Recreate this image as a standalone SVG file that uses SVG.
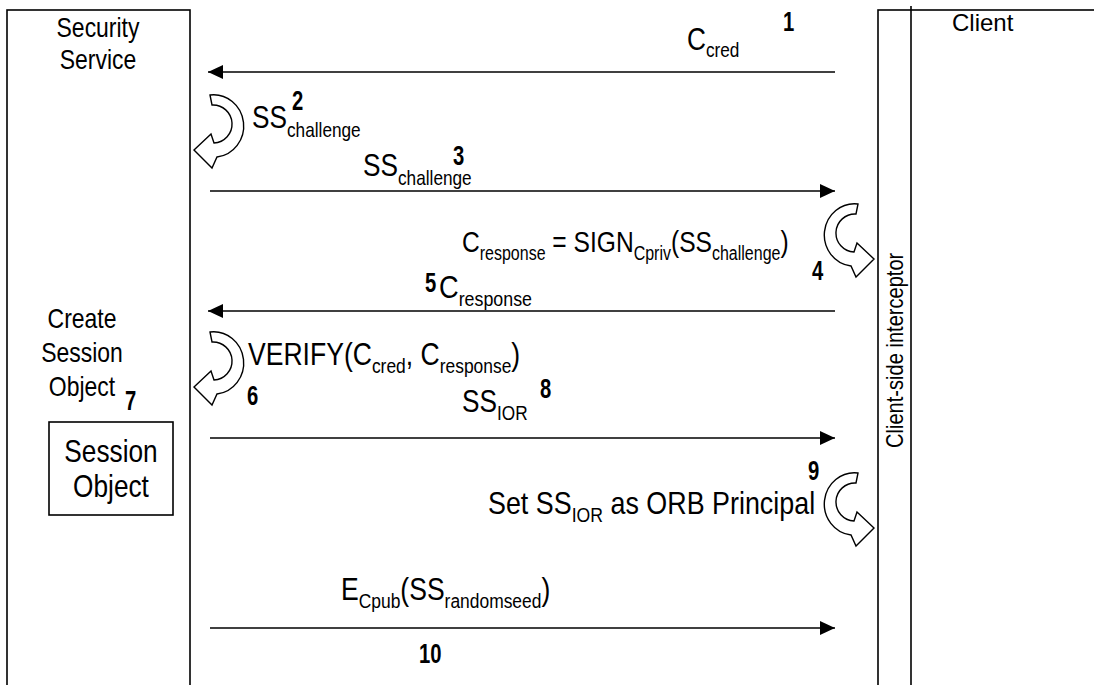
<svg xmlns="http://www.w3.org/2000/svg" width="1094" height="685" viewBox="0 0 1094 685">
<defs>
<style>
.t{font-family:"Liberation Sans",Arial,sans-serif;font-size:32px;fill:#000}
.e{font-size:30px}
.s{font-size:21px}
.es{font-size:19.5px}
.n{font-family:"Liberation Sans",Arial,sans-serif;font-size:27px;font-weight:bold;fill:#000}
.lbl{font-family:"Liberation Sans",Arial,sans-serif;font-size:28px;fill:#000}
.box{fill:#fff;stroke:#000;stroke-width:1.6}
.ln{stroke:#000;stroke-width:1.6;fill:none}
.ca{fill:#fff;stroke:#000;stroke-width:1.4;stroke-linejoin:miter}
</style>
<marker id="ah" markerUnits="userSpaceOnUse" markerWidth="16" markerHeight="14" refX="15" refY="7" orient="auto">
<path d="M0,0 L15,7 L0,14 Z" fill="#000"/>
</marker>
<path id="curl" d="M210,95 A30,31 0 0 1 217,157 L212,168 L194,150 L211,134 L214,143 A18,18 0 0 0 212,105 Z"/>
</defs>
<rect width="1094" height="685" fill="#fff"/>

<g id="security-service">
<rect class="box" x="7" y="10" width="183" height="700"/>
<text class="lbl" transform="translate(98,37) scale(0.82,1)" text-anchor="middle">Security</text>
<text class="lbl" transform="translate(98,69) scale(0.82,1)" text-anchor="middle">Service</text>
<text class="lbl" transform="translate(82,328) scale(0.82,1)" text-anchor="middle">Create</text>
<text class="lbl" transform="translate(82,362) scale(0.82,1)" text-anchor="middle">Session</text>
<text class="lbl" transform="translate(82,396) scale(0.82,1)" text-anchor="middle">Object</text>
</g>

<g id="session-object">
<rect class="box" x="49" y="422" width="124" height="93"/>
<text class="t" transform="translate(111,462) scale(0.82,1)" text-anchor="middle">Session</text>
<text class="t" transform="translate(111,497) scale(0.82,1)" text-anchor="middle">Object</text>
</g>

<g id="client">
<rect class="box" x="878" y="10" width="240" height="700"/>
<line class="ln" x1="911" y1="6" x2="911" y2="685"/>
<text x="952" y="31" style="font-family:'Liberation Sans',Arial,sans-serif;font-size:24px">Client</text>
<text class="t" style="font-size:24.5px" transform="translate(903,448) rotate(-90) scale(0.82,1)">Client-side interceptor</text>
</g>

<g id="connectors">
<line class="ln" x1="835" y1="72" x2="208" y2="72" marker-end="url(#ah)"/>
<line class="ln" x1="210" y1="191" x2="835" y2="191" marker-end="url(#ah)"/>
<line class="ln" x1="835" y1="311" x2="208" y2="311" marker-end="url(#ah)"/>
<line class="ln" x1="210" y1="438" x2="835" y2="438" marker-end="url(#ah)"/>
<line class="ln" x1="210" y1="628" x2="835" y2="628" marker-end="url(#ah)"/>
<use href="#curl" class="ca"/>
<use href="#curl" class="ca" transform="translate(0,237)"/>
<use href="#curl" class="ca" transform="translate(1068,109) scale(-1,1)"/>
<use href="#curl" class="ca" transform="translate(1068,378) scale(-1,1)"/>
</g>

<g id="labels">
<text class="t" transform="translate(687,50) scale(0.82,1)">C<tspan class="s" dy="7">cred</tspan></text>
<text class="n" transform="translate(783,31) scale(0.75,1)">1</text>

<text class="t" transform="translate(252,128) scale(0.82,1)">SS<tspan class="s" dy="9">challenge</tspan></text>
<text class="n" transform="translate(292,110) scale(0.75,1)">2</text>

<text class="t" transform="translate(363,176) scale(0.82,1)">SS<tspan class="s" dy="9">challenge</tspan></text>
<text class="n" transform="translate(453,165) scale(0.75,1)">3</text>

<text class="t e" transform="translate(462,252) scale(0.82,1)">C<tspan class="es" dy="8">response</tspan><tspan dy="-8"> = SIGN</tspan><tspan class="es" dy="8">Cpriv</tspan><tspan dy="-8">(SS</tspan><tspan class="es" dy="8">challenge</tspan><tspan dy="-8">)</tspan></text>
<text class="n" transform="translate(812,280) scale(0.75,1)">4</text>

<text class="n" transform="translate(425,292) scale(0.75,1)">5</text>
<text class="t" transform="translate(439,298) scale(0.85,1)">C<tspan class="s" dy="8">response</tspan></text>

<text class="t" transform="translate(248,365) scale(0.83,1)">VERIFY(C<tspan class="s" dy="8">cred</tspan><tspan dy="-8">,</tspan> C<tspan class="s" dy="8">response</tspan><tspan dy="-8">)</tspan></text>
<text class="n" transform="translate(247,405) scale(0.75,1)">6</text>
<text class="n" transform="translate(125,410) scale(0.75,1)">7</text>

<text class="t" transform="translate(462,412) scale(0.82,1)">SS<tspan class="s" dy="8">IOR</tspan></text>
<text class="n" transform="translate(540,398) scale(0.75,1)">8</text>

<text class="n" transform="translate(808,480) scale(0.75,1)">9</text>
<text class="t" transform="translate(488,514) scale(0.84,1)">Set SS<tspan class="s" dy="8">IOR</tspan><tspan dy="-8"> as ORB Principal</tspan></text>

<text class="t" transform="translate(341,600) scale(0.83,1)">E<tspan class="s" dy="8">Cpub</tspan><tspan dy="-8">(SS</tspan><tspan class="s" dy="8">randomseed</tspan><tspan dy="-8">)</tspan></text>
<text class="n" transform="translate(419,663) scale(0.75,1)">10</text>
</g>
</svg>
